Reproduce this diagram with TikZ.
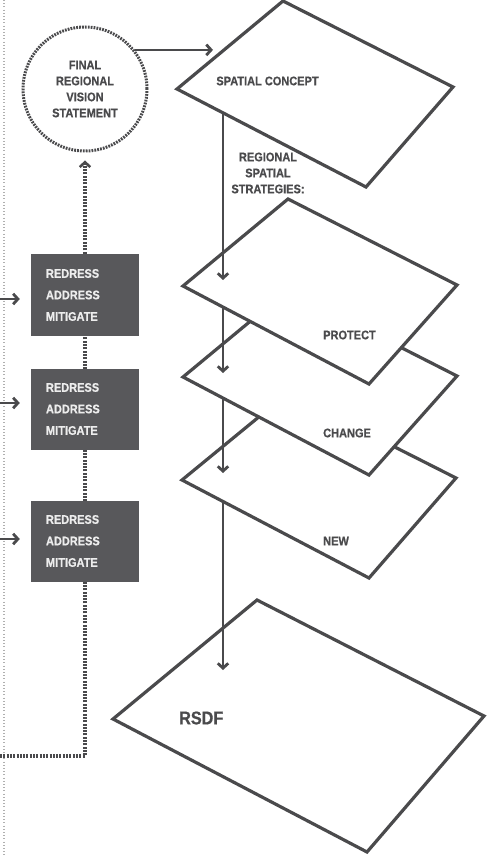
\documentclass[tikz,border=0pt]{standalone}
\usepackage{fontspec}
\newfontfamily\labfont{Liberation Sans Bold}[FakeStretch=0.88, FakeBold=0.6]
\usetikzlibrary{arrows.meta}
\definecolor{ink}{HTML}{4A4A4C}
\definecolor{boxfill}{HTML}{58585B}
\definecolor{boxtext}{HTML}{EDEDED}
\definecolor{guide}{HTML}{B0B0B0}
\tikzset{
  lbl/.style={font=\labfont\fontsize{12.5}{16}\selectfont, text=ink, inner sep=0pt},
  sheet/.style={draw=ink, fill=white, line width=3.2pt, line join=miter},
  flow/.style={draw=ink, line width=2.8pt, -{Straight Barb[length=4.8pt,width=10.5pt]}},
  feedback/.style={draw=ink, line width=3.2pt, dash pattern=on 2pt off 1.3pt},
  actionbox/.style={draw=none, fill=boxfill, minimum width=108pt, minimum height=81pt,
    inner sep=0pt, text width=78pt, align=left, text=boxtext,
    font=\labfont\fontsize{12.5}{21.5}\selectfont},
  visionnode/.style={circle, draw=ink, line width=3pt, dash pattern=on 1.8pt off 1.1pt,
    minimum size=124pt, inner sep=0pt, align=center,
    font=\labfont\fontsize{12.5}{16}\selectfont, text=ink}
}
\begin{document}
\begin{tikzpicture}[x=1pt, y=-1pt]
\useasboundingbox (0,0) rectangle (496,858);

% light guide line along the left margin
\coordinate (gtop) at (4,0);
\coordinate (gbot) at (4,855);
\draw[guide, line width=1.1pt, dash pattern=on 1pt off 2.2pt] (gtop) -- (gbot);

% vision statement
\node[visionnode] (vision) at (85,89) {FINAL\\REGIONAL\\VISION\\STATEMENT};

% feedback loop up to the vision statement
\coordinate (loopin) at (0,756);
\coordinate (loopcorner) at (85,756);
\draw[feedback] (loopin) -- (loopcorner) -- ([yshift=-11pt]vision.south);
\draw[draw=ink, line width=2.6pt, {Straight Barb[length=4.8pt,width=10.5pt]}-]
  ([yshift=-8pt]vision.south) -- ([yshift=-12pt]vision.south);

% action boxes
\node[actionbox] (act1) at (85,295) {REDRESS\\ADDRESS\\MITIGATE};
\node[actionbox] (act2) at (85,409) {REDRESS\\ADDRESS\\MITIGATE};
\node[actionbox] (act3) at (85,541) {REDRESS\\ADDRESS\\MITIGATE};

\coordinate (in1) at (0,299);
\coordinate (in2) at (0,403);
\coordinate (in3) at (0,539);
\draw[flow, shorten >=11pt] (in1) -- (in1 -| act1.west);
\draw[flow, shorten >=11pt] (in2) -- (in2 -| act2.west);
\draw[flow, shorten >=11pt] (in3) -- (in3 -| act3.west);

% RSDF sheet
\coordinate (rT) at (257,600);
\coordinate (rL) at (113,719);
\coordinate (rB) at (367,852);
\coordinate (rR) at (484,716);
\draw[sheet] (rT) -- (rR) -- (rB) -- (rL) -- cycle;
\node[lbl, anchor=west, font=\labfont\fontsize{18.4}{22}\selectfont] (rsdf) at (179,718) {RSDF};

\coordinate (s4) at (223,480);
\coordinate (e4) at (223,670);
\draw[flow] (s4) -- (e4);

% NEW sheet
\coordinate (nT) at (288,393);
\coordinate (nL) at (182,480);
\coordinate (nB) at (369,578);
\coordinate (nR) at (456,478);
\draw[sheet] (nT) -- (nR) -- (nB) -- (nL) -- cycle;
\node[lbl, anchor=west] (new) at (323,541) {NEW};

\coordinate (s3) at (223,380);
\coordinate (e3) at (223,473);
\draw[flow] (s3) -- (e3);

% CHANGE sheet
\coordinate (cT) at (288,290);
\coordinate (cL) at (183,377);
\coordinate (cB) at (369,475);
\coordinate (cR) at (457,376);
\draw[sheet] (cT) -- (cR) -- (cB) -- (cL) -- cycle;
\node[lbl, anchor=west] (change) at (323,433) {CHANGE};

\coordinate (s2) at (223,290);
\coordinate (e2) at (223,373);
\draw[flow] (s2) -- (e2);

% PROTECT sheet
\coordinate (pT) at (288,199);
\coordinate (pL) at (183,286);
\coordinate (pB) at (369,384);
\coordinate (pR) at (457,285);
\draw[sheet] (pT) -- (pR) -- (pB) -- (pL) -- cycle;
\node[lbl, anchor=west] (protect) at (323,335) {PROTECT};

\coordinate (s1) at (223,100);
\coordinate (e1) at (223,280);
\draw[flow] (s1) -- (e1);

% spatial concept sheet
\coordinate (sT) at (283,1);
\coordinate (sL) at (177,89);
\coordinate (sB) at (366,187);
\coordinate (sR) at (453,87);
\draw[sheet] (sT) -- (sR) -- (sB) -- (sL) -- cycle;
\node[lbl] (concept) at (267.5,81) {SPATIAL CONCEPT};
\node[lbl, align=center] (strategies) at (268,173) {REGIONAL\\SPATIAL\\STRATEGIES:};

% vision statement feeds the spatial concept
\coordinate (scin) at (213,51);
\draw[flow] (vision.38) -- (vision.38 -| scin);
\end{tikzpicture}
\end{document}
